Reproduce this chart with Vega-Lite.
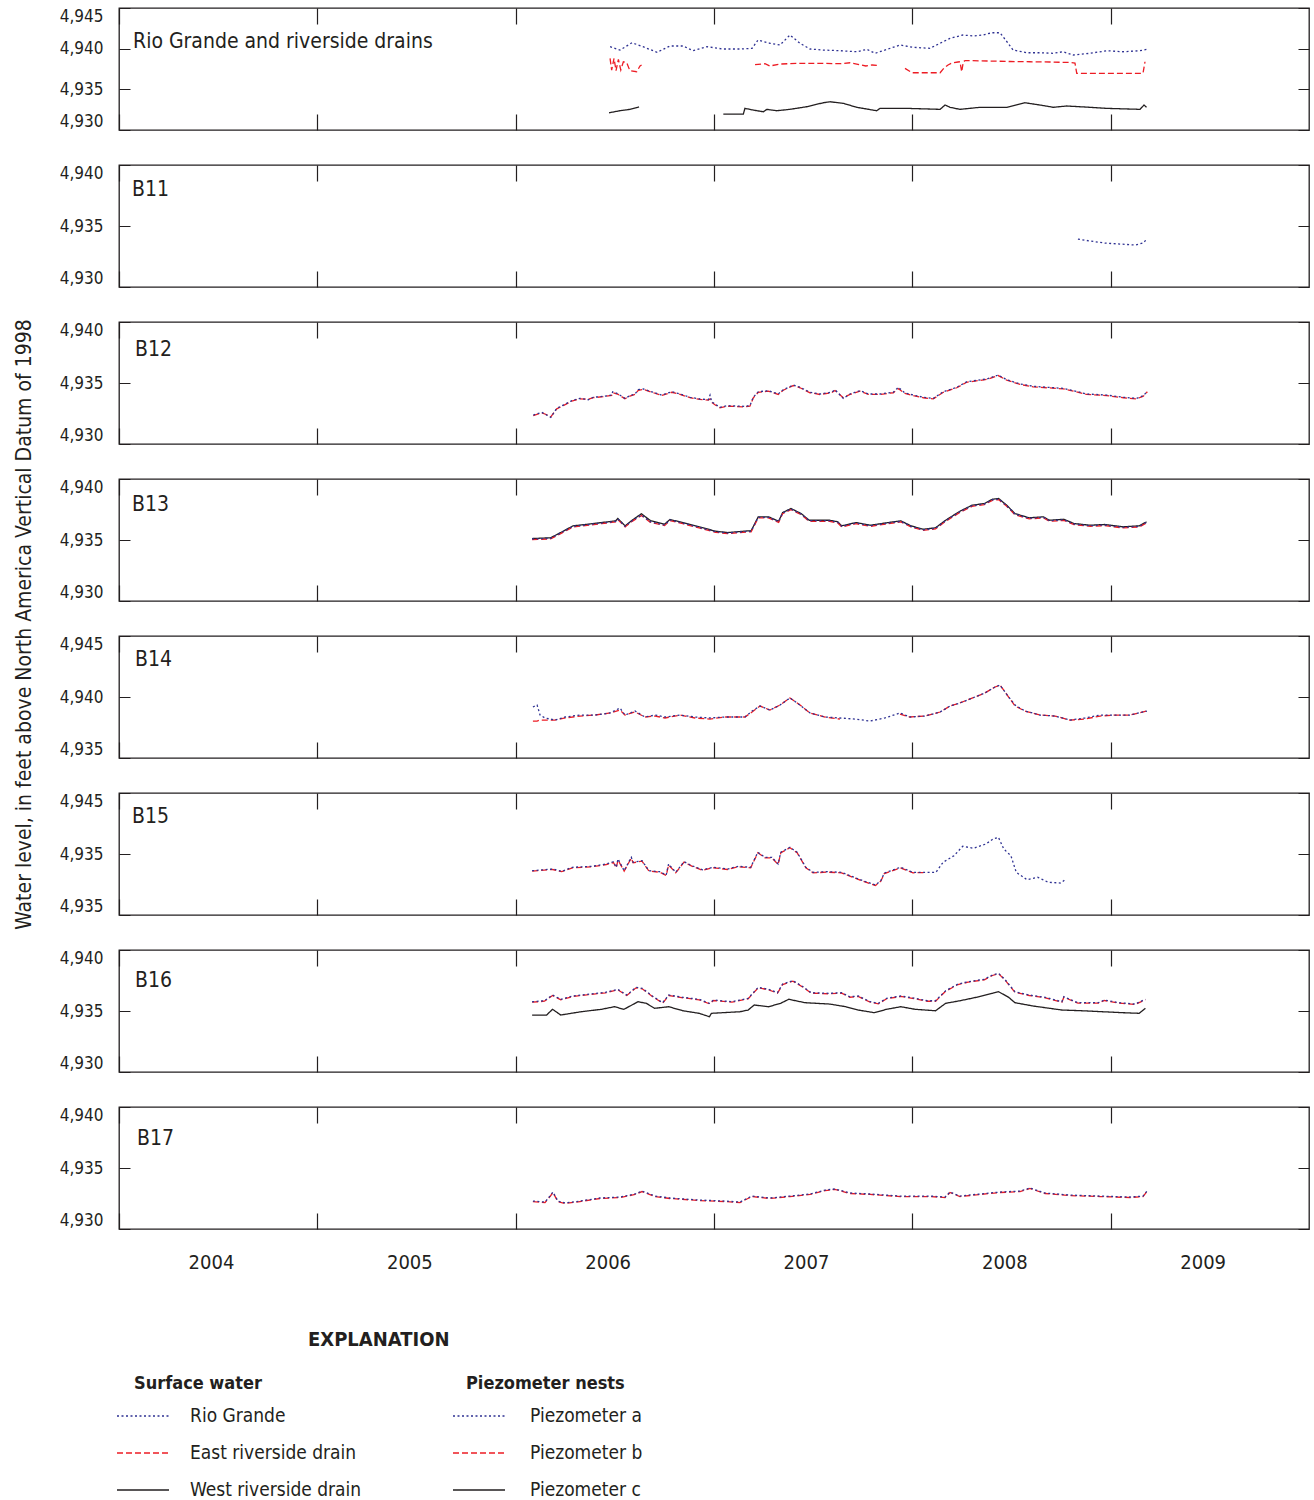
{
  "$schema": "https://vega.github.io/schema/vega-lite/v6.json",
  "background": "white",
  "padding": {"left": 12, "top": 6, "right": 5, "bottom": 0},
  "title": {"text": "EXPLANATION", "anchor": "start", "frame": "group", "orient": "top", "offset": -1354, "dx": 189, "baseline": "middle", "fontSize": 20, "fontWeight": "bold", "color": "#231f20"},
  "spacing": 35,
  "bounds": "flush",
  "resolve": {"scale": {"color": "independent", "strokeDash": "independent"}},
  "config": {
    "font": "DejaVu Sans Condensed, Liberation Sans Narrow, sans-serif",
    "view": {"stroke": "#231f20", "strokeWidth": 1.3},
    "line": {"strokeWidth": 1.3},
    "axisX": {"grid": true, "gridColor": "#231f20", "gridOpacity": 1, "gridWidth": 1.2, "gridDash": [16, 90], "ticks": false, "domain": false, "labels": false},
    "axisY": {"grid": true, "gridColor": "#231f20", "gridOpacity": 1, "gridWidth": 1.2, "gridDash": [11, 1168], "ticks": false, "tickSize": 0, "domain": false, "labelFlush": true, "labelPadding": 16, "labelFontSize": 17, "labelColor": "#231f20"},
    "title": {"fontSize": 21, "fontWeight": "normal", "color": "#231f20", "anchor": "start", "frame": "group", "baseline": "middle"}
  },
  "vconcat": [
    {
      "width": 1190, "height": 122,
      "title": {"text": "Rio Grande and riverside drains", "dx": 14, "offset": -45},
      "data": {"values": [
        {"s":"Rio Grande","t":2006.476,"v":4940.24},{"s":"Rio Grande","t":2006.526,"v":4939.83},{"s":"Rio Grande","t":2006.587,"v":4940.73},{"s":"Rio Grande","t":2006.642,"v":4940.24},{"s":"Rio Grande","t":2006.713,"v":4939.55},{"s":"Rio Grande","t":2006.778,"v":4940.33},{"s":"Rio Grande","t":2006.844,"v":4940.33},{"s":"Rio Grande","t":2006.894,"v":4939.75},{"s":"Rio Grande","t":2006.965,"v":4940.24},{"s":"Rio Grande","t":2007.045,"v":4939.96},{"s":"Rio Grande","t":2007.131,"v":4939.96},{"s":"Rio Grande","t":2007.192,"v":4940.04},{"s":"Rio Grande","t":2007.222,"v":4941.06},{"s":"Rio Grande","t":2007.282,"v":4940.66},{"s":"Rio Grande","t":2007.333,"v":4940.45},{"s":"Rio Grande","t":2007.383,"v":4941.68},{"s":"Rio Grande","t":2007.434,"v":4940.66},{"s":"Rio Grande","t":2007.484,"v":4939.96},{"s":"Rio Grande","t":2007.550,"v":4939.83},{"s":"Rio Grande","t":2007.635,"v":4939.75},{"s":"Rio Grande","t":2007.721,"v":4939.62},{"s":"Rio Grande","t":2007.771,"v":4939.92},{"s":"Rio Grande","t":2007.812,"v":4939.43},{"s":"Rio Grande","t":2007.852,"v":4939.75},{"s":"Rio Grande","t":2007.938,"v":4940.45},{"s":"Rio Grande","t":2008.003,"v":4940.17},{"s":"Rio Grande","t":2008.089,"v":4940.04},{"s":"Rio Grande","t":2008.155,"v":4940.85},{"s":"Rio Grande","t":2008.190,"v":4941.27},{"s":"Rio Grande","t":2008.255,"v":4941.68},{"s":"Rio Grande","t":2008.306,"v":4941.56},{"s":"Rio Grande","t":2008.356,"v":4941.68},{"s":"Rio Grande","t":2008.402,"v":4941.96},{"s":"Rio Grande","t":2008.442,"v":4941.96},{"s":"Rio Grande","t":2008.477,"v":4940.85},{"s":"Rio Grande","t":2008.508,"v":4939.83},{"s":"Rio Grande","t":2008.578,"v":4939.50},{"s":"Rio Grande","t":2008.644,"v":4939.50},{"s":"Rio Grande","t":2008.709,"v":4939.43},{"s":"Rio Grande","t":2008.760,"v":4939.62},{"s":"Rio Grande","t":2008.810,"v":4939.22},{"s":"Rio Grande","t":2008.896,"v":4939.43},{"s":"Rio Grande","t":2008.982,"v":4939.75},{"s":"Rio Grande","t":2009.062,"v":4939.62},{"s":"Rio Grande","t":2009.148,"v":4939.75},{"s":"Rio Grande","t":2009.183,"v":4939.92},
        {"s":"East riverside drain","t":2006.476,"v":4938.81},{"s":"East riverside drain","t":2006.484,"v":4937.37},{"s":"East riverside drain","t":2006.496,"v":4938.81},{"s":"East riverside drain","t":2006.506,"v":4937.29},{"s":"East riverside drain","t":2006.518,"v":4938.69},{"s":"East riverside drain","t":2006.530,"v":4937.37},{"s":"East riverside drain","t":2006.543,"v":4938.39},{"s":"East riverside drain","t":2006.560,"v":4938.27},{"s":"East riverside drain","t":2006.576,"v":4937.29},{"s":"East riverside drain","t":2006.610,"v":4937.16},{"s":"East riverside drain","t":2006.627,"v":4937.87},{"s":"East riverside drain","t":2006.635,"v":4937.99},{"s":"East riverside drain","t":2006.700,"v":null},
        {"s":"East riverside drain","t":2007.207,"v":4938.03},{"s":"East riverside drain","t":2007.257,"v":4938.15},{"s":"East riverside drain","t":2007.282,"v":4937.87},{"s":"East riverside drain","t":2007.333,"v":4938.11},{"s":"East riverside drain","t":2007.434,"v":4938.20},{"s":"East riverside drain","t":2007.534,"v":4938.20},{"s":"East riverside drain","t":2007.635,"v":4938.15},{"s":"East riverside drain","t":2007.686,"v":4938.27},{"s":"East riverside drain","t":2007.736,"v":4938.03},{"s":"East riverside drain","t":2007.766,"v":4937.87},{"s":"East riverside drain","t":2007.797,"v":4937.99},{"s":"East riverside drain","t":2007.822,"v":4937.95},{"s":"East riverside drain","t":2007.900,"v":null},
        {"s":"East riverside drain","t":2007.963,"v":4937.58},{"s":"East riverside drain","t":2007.998,"v":4937.04},{"s":"East riverside drain","t":2008.140,"v":4937.04},{"s":"East riverside drain","t":2008.160,"v":4937.62},{"s":"East riverside drain","t":2008.180,"v":4937.99},{"s":"East riverside drain","t":2008.200,"v":4938.24},{"s":"East riverside drain","t":2008.230,"v":4938.36},{"s":"East riverside drain","t":2008.240,"v":4938.39},{"s":"East riverside drain","t":2008.249,"v":4937.16},{"s":"East riverside drain","t":2008.257,"v":4938.39},{"s":"East riverside drain","t":2008.266,"v":4938.54},{"s":"East riverside drain","t":2008.392,"v":4938.48},{"s":"East riverside drain","t":2008.492,"v":4938.42},{"s":"East riverside drain","t":2008.593,"v":4938.39},{"s":"East riverside drain","t":2008.694,"v":4938.36},{"s":"East riverside drain","t":2008.795,"v":4938.30},{"s":"East riverside drain","t":2008.820,"v":4938.24},{"s":"East riverside drain","t":2008.829,"v":4936.97},{"s":"East riverside drain","t":2008.946,"v":4936.97},{"s":"East riverside drain","t":2009.163,"v":4936.97},{"s":"East riverside drain","t":2009.173,"v":4938.39},
        {"s":"West riverside drain","t":2006.471,"v":4932.12},{"s":"West riverside drain","t":2006.526,"v":4932.37},{"s":"West riverside drain","t":2006.576,"v":4932.54},{"s":"West riverside drain","t":2006.617,"v":4932.79},{"s":"West riverside drain","t":2006.622,"v":4932.86},{"s":"West riverside drain","t":2006.800,"v":null},
        {"s":"West riverside drain","t":2007.047,"v":4931.96},{"s":"West riverside drain","t":2007.148,"v":4931.96},{"s":"West riverside drain","t":2007.156,"v":4932.66},{"s":"West riverside drain","t":2007.198,"v":4932.45},{"s":"West riverside drain","t":2007.249,"v":4932.24},{"s":"West riverside drain","t":2007.266,"v":4932.54},{"s":"West riverside drain","t":2007.316,"v":4932.37},{"s":"West riverside drain","t":2007.383,"v":4932.54},{"s":"West riverside drain","t":2007.467,"v":4932.86},{"s":"West riverside drain","t":2007.551,"v":4933.35},{"s":"West riverside drain","t":2007.585,"v":4933.47},{"s":"West riverside drain","t":2007.652,"v":4933.28},{"s":"West riverside drain","t":2007.720,"v":4932.79},{"s":"West riverside drain","t":2007.820,"v":4932.37},{"s":"West riverside drain","t":2007.837,"v":4932.66},{"s":"West riverside drain","t":2007.972,"v":4932.66},{"s":"West riverside drain","t":2008.140,"v":4932.54},{"s":"West riverside drain","t":2008.165,"v":4933.07},{"s":"West riverside drain","t":2008.190,"v":4932.79},{"s":"West riverside drain","t":2008.240,"v":4932.54},{"s":"West riverside drain","t":2008.341,"v":4932.79},{"s":"West riverside drain","t":2008.476,"v":4932.79},{"s":"West riverside drain","t":2008.568,"v":4933.35},{"s":"West riverside drain","t":2008.644,"v":4933.07},{"s":"West riverside drain","t":2008.711,"v":4932.79},{"s":"West riverside drain","t":2008.778,"v":4932.95},{"s":"West riverside drain","t":2008.896,"v":4932.79},{"s":"West riverside drain","t":2008.980,"v":4932.66},{"s":"West riverside drain","t":2009.148,"v":4932.54},{"s":"West riverside drain","t":2009.168,"v":4933.07},{"s":"West riverside drain","t":2009.181,"v":4932.79}
      ]},
      "mark": {"type": "line"},
      "encoding": {
        "x": {"field": "t", "type": "quantitative", "scale": {"domain": [2004, 2010], "nice": false, "zero": false}, "axis": {"values": [2004, 2005, 2006, 2007, 2008, 2009], "title": null}},
        "y": {"field": "v", "type": "quantitative", "scale": {"domain": [4930, 4945], "nice": false, "zero": false}, "axis": {"values": [4930, 4935, 4940, 4945], "format": ",d", "title": null, "gridDash": [11, 1168]}},
        "color": {"field": "s", "type": "nominal", "scale": {"domain": ["Rio Grande", "East riverside drain", "West riverside drain"], "range": ["#2e3192", "#ed1c24", "#231f20"]},
          "legend": {"orient": "none", "legendX": 15, "legendY": 1367, "title": "Surface water", "titleFontSize": 18, "titleFontWeight": "bold", "titleColor": "#231f20", "titlePadding": -4, "symbolType": "stroke", "symbolSize": 2704, "symbolStrokeWidth": 1.3, "symbolOffset": -18, "labelOffset": 20, "labelFontSize": 19, "labelLimit": 400, "labelColor": "#231f20", "rowPadding": -1, "padding": 0}},
        "strokeDash": {"field": "s", "type": "nominal", "scale": {"domain": ["Rio Grande", "East riverside drain", "West riverside drain"], "range": [[2, 2.5], [6, 3], [1, 0]]},
          "legend": {"orient": "none", "legendX": 15, "legendY": 1367, "title": "Surface water", "titleFontSize": 18, "titleFontWeight": "bold", "titleColor": "#231f20", "titlePadding": -4, "symbolType": "stroke", "symbolSize": 2704, "symbolStrokeWidth": 1.3, "symbolOffset": -18, "labelOffset": 20, "labelFontSize": 19, "labelLimit": 400, "labelColor": "#231f20", "rowPadding": -1, "padding": 0}}
      }
    },
    {
      "width": 1190, "height": 122,
      "title": {"text": "B11", "dx": 13, "offset": -36},
      "data": {"values": [
        {"t":2008.835,"a":4933.93},{"t":2008.896,"a":4933.77},{"t":2008.971,"a":4933.60},{"t":2009.047,"a":4933.52},{"t":2009.123,"a":4933.44},{"t":2009.163,"a":4933.60},{"t":2009.183,"a":4933.93}
      ]},
      "transform": [{"fold": ["c", "b", "a"], "as": ["s", "v"]}, {"filter": "isDefined(datum.v)"}],
      "mark": {"type": "line"},
      "encoding": {
        "x": {"field": "t", "type": "quantitative", "scale": {"domain": [2004, 2010], "nice": false, "zero": false}, "axis": {"values": [2004, 2005, 2006, 2007, 2008, 2009], "title": null}},
        "y": {"field": "v", "type": "quantitative", "scale": {"domain": [4930, 4940], "nice": false, "zero": false}, "axis": {"values": [4930, 4935, 4940], "format": ",d", "title": null}},
        "color": {"field": "s", "type": "nominal", "scale": {"domain": ["a", "b", "c"], "range": ["#2e3192", "#ed1c24", "#231f20"]}, "legend": null},
        "strokeDash": {"field": "s", "type": "nominal", "scale": {"domain": ["a", "b", "c"], "range": [[2, 2.5], [6, 3], [1, 0]]}, "legend": null}
      }
    },
    {
      "width": 1190, "height": 122,
      "title": {"text": "B12", "dx": 16, "offset": -39},
      "data": {"values": [
        {"t":2006.089,"a":4932.37,"b":4932.33},{"t":2006.131,"a":4932.60,"b":4932.55},{"t":2006.157,"a":4932.37,"b":4932.40},{"t":2006.177,"a":4932.19,"b":4932.22},{"t":2006.207,"a":4932.92,"b":4932.88},{"t":2006.240,"a":4933.19,"b":4933.15},{"t":2006.283,"a":4933.55,"b":4933.52},{"t":2006.324,"a":4933.74,"b":4933.70},{"t":2006.366,"a":4933.63,"b":4933.66},{"t":2006.391,"a":4933.83,"b":4933.80},{"t":2006.442,"a":4933.91,"b":4933.88},{"t":2006.484,"a":4934.01,"b":4933.98},{"t":2006.489,"a":4934.28,"b":4934.20},{"t":2006.517,"a":4934.10,"b":4934.06},{"t":2006.551,"a":4933.74,"b":4933.71},{"t":2006.576,"a":4933.96,"b":4933.93},{"t":2006.602,"a":4934.10,"b":4934.07},{"t":2006.618,"a":4934.45,"b":4934.40},{"t":2006.644,"a":4934.51,"b":4934.47},{"t":2006.686,"a":4934.28,"b":4934.25},{"t":2006.736,"a":4934.01,"b":4933.97},{"t":2006.787,"a":4934.28,"b":4934.24},{"t":2006.829,"a":4934.10,"b":4934.06},{"t":2006.879,"a":4933.83,"b":4933.80},{"t":2006.929,"a":4933.69,"b":4933.65},{"t":2006.971,"a":4933.63,"b":4933.60},{"t":2006.980,"a":4934.01,"b":4933.70},{"t":2006.988,"a":4933.46,"b":4933.42},{"t":2007.005,"a":4933.28,"b":4933.22},{"t":2007.030,"a":4933.01,"b":4932.97},{"t":2007.064,"a":4933.14,"b":4933.10},{"t":2007.148,"a":4933.09,"b":4933.05},{"t":2007.181,"a":4933.14,"b":4933.10},{"t":2007.198,"a":4933.83,"b":4933.78},{"t":2007.223,"a":4934.28,"b":4934.24},{"t":2007.274,"a":4934.37,"b":4934.33},{"t":2007.324,"a":4934.10,"b":4934.06},{"t":2007.349,"a":4934.45,"b":4934.41},{"t":2007.400,"a":4934.83,"b":4934.79},{"t":2007.434,"a":4934.65,"b":4934.61},{"t":2007.484,"a":4934.24,"b":4934.20},{"t":2007.534,"a":4934.10,"b":4934.06},{"t":2007.593,"a":4934.24,"b":4934.20},{"t":2007.610,"a":4934.45,"b":4934.38},{"t":2007.652,"a":4933.74,"b":4933.80},{"t":2007.686,"a":4934.10,"b":4934.06},{"t":2007.736,"a":4934.37,"b":4934.33},{"t":2007.778,"a":4934.10,"b":4934.06},{"t":2007.837,"a":4934.10,"b":4934.06},{"t":2007.904,"a":4934.24,"b":4934.20},{"t":2007.929,"a":4934.65,"b":4934.55},{"t":2007.963,"a":4934.18,"b":4934.14},{"t":2008.005,"a":4934.01,"b":4933.97},{"t":2008.055,"a":4933.83,"b":4933.79},{"t":2008.106,"a":4933.74,"b":4933.70},{"t":2008.156,"a":4934.28,"b":4934.24},{"t":2008.224,"a":4934.65,"b":4934.61},{"t":2008.274,"a":4935.10,"b":4935.06},{"t":2008.375,"a":4935.33,"b":4935.29},{"t":2008.433,"a":4935.65,"b":4935.61},{"t":2008.476,"a":4935.27,"b":4935.23},{"t":2008.543,"a":4934.92,"b":4934.88},{"t":2008.610,"a":4934.73,"b":4934.69},{"t":2008.677,"a":4934.65,"b":4934.61},{"t":2008.761,"a":4934.56,"b":4934.52},{"t":2008.812,"a":4934.37,"b":4934.33},{"t":2008.879,"a":4934.10,"b":4934.06},{"t":2008.980,"a":4934.01,"b":4933.97},{"t":2009.064,"a":4933.83,"b":4933.79},{"t":2009.131,"a":4933.74,"b":4933.70},{"t":2009.165,"a":4933.96,"b":4933.92},{"t":2009.185,"a":4934.32,"b":4934.28}
      ]},
      "transform": [{"fold": ["c", "b", "a"], "as": ["s", "v"]}, {"filter": "isDefined(datum.v)"}],
      "mark": {"type": "line"},
      "encoding": {
        "x": {"field": "t", "type": "quantitative", "scale": {"domain": [2004, 2010], "nice": false, "zero": false}, "axis": {"values": [2004, 2005, 2006, 2007, 2008, 2009], "title": null}},
        "y": {"field": "v", "type": "quantitative", "scale": {"domain": [4930, 4940], "nice": false, "zero": false}, "axis": {"values": [4930, 4935, 4940], "format": ",d", "title": null}},
        "color": {"field": "s", "type": "nominal", "scale": {"domain": ["a", "b", "c"], "range": ["#2e3192", "#ed1c24", "#231f20"]}, "legend": null},
        "strokeDash": {"field": "s", "type": "nominal", "scale": {"domain": ["a", "b", "c"], "range": [[2, 2.5], [6, 3], [1, 0]]}, "legend": null}
      }
    },
    {
      "width": 1190, "height": 122,
      "title": {"text": "B13", "dx": 13, "offset": -196},
      "data": {"values": [
        {"t":2006.083,"a":4935.08,"b":4935.03,"c":4935.12},{"t":2006.176,"a":4935.14,"b":4935.09,"c":4935.18},{"t":2006.227,"a":4935.57,"b":4935.52,"c":4935.61},{"t":2006.289,"a":4936.12,"b":4936.07,"c":4936.16},{"t":2006.351,"a":4936.23,"b":4936.18,"c":4936.27},{"t":2006.433,"a":4936.39,"b":4936.34,"c":4936.43},{"t":2006.504,"a":4936.53,"b":4936.48,"c":4936.57},{"t":2006.515,"a":4936.72,"b":4936.67,"c":4936.76},{"t":2006.552,"a":4936.12,"b":4936.07,"c":4936.16},{"t":2006.587,"a":4936.58,"b":4936.53,"c":4936.62},{"t":2006.634,"a":4937.05,"b":4937.00,"c":4937.15},{"t":2006.679,"a":4936.50,"b":4936.45,"c":4936.60},{"t":2006.751,"a":4936.23,"b":4936.18,"c":4936.30},{"t":2006.778,"a":4936.64,"b":4936.59,"c":4936.68},{"t":2006.843,"a":4936.39,"b":4936.34,"c":4936.43},{"t":2006.925,"a":4936.04,"b":4935.99,"c":4936.08},{"t":2007.008,"a":4935.68,"b":4935.63,"c":4935.72},{"t":2007.069,"a":4935.57,"b":4935.52,"c":4935.61},{"t":2007.172,"a":4935.71,"b":4935.66,"c":4935.75},{"t":2007.187,"a":4935.71,"b":4935.66,"c":4935.75},{"t":2007.223,"a":4936.86,"b":4936.81,"c":4936.90},{"t":2007.275,"a":4936.86,"b":4936.81,"c":4936.90},{"t":2007.326,"a":4936.50,"b":4936.45,"c":4936.54},{"t":2007.346,"a":4937.21,"b":4937.16,"c":4937.25},{"t":2007.388,"a":4937.54,"b":4937.49,"c":4937.58},{"t":2007.439,"a":4937.13,"b":4937.08,"c":4937.17},{"t":2007.480,"a":4936.58,"b":4936.53,"c":4936.62},{"t":2007.583,"a":4936.58,"b":4936.53,"c":4936.62},{"t":2007.624,"a":4936.45,"b":4936.40,"c":4936.49},{"t":2007.644,"a":4936.12,"b":4936.07,"c":4936.16},{"t":2007.716,"a":4936.39,"b":4936.34,"c":4936.43},{"t":2007.788,"a":4936.17,"b":4936.12,"c":4936.21},{"t":2007.870,"a":4936.37,"b":4936.32,"c":4936.41},{"t":2007.942,"a":4936.53,"b":4936.48,"c":4936.57},{"t":2007.993,"a":4936.12,"b":4936.07,"c":4936.16},{"t":2008.055,"a":4935.84,"b":4935.79,"c":4935.88},{"t":2008.117,"a":4935.96,"b":4935.91,"c":4936.00},{"t":2008.168,"a":4936.58,"b":4936.53,"c":4936.62},{"t":2008.240,"a":4937.32,"b":4937.27,"c":4937.36},{"t":2008.301,"a":4937.81,"b":4937.76,"c":4937.85},{"t":2008.363,"a":4937.95,"b":4937.90,"c":4937.99},{"t":2008.404,"a":4938.30,"b":4938.25,"c":4938.34},{"t":2008.435,"a":4938.36,"b":4938.31,"c":4938.40},{"t":2008.476,"a":4937.81,"b":4937.76,"c":4937.85},{"t":2008.517,"a":4937.13,"b":4937.08,"c":4937.17},{"t":2008.589,"a":4936.78,"b":4936.73,"c":4936.82},{"t":2008.661,"a":4936.86,"b":4936.81,"c":4936.90},{"t":2008.692,"a":4936.58,"b":4936.53,"c":4936.62},{"t":2008.764,"a":4936.66,"b":4936.61,"c":4936.70},{"t":2008.815,"a":4936.31,"b":4936.26,"c":4936.35},{"t":2008.897,"a":4936.17,"b":4936.12,"c":4936.21},{"t":2008.969,"a":4936.23,"b":4936.18,"c":4936.27},{"t":2009.062,"a":4936.04,"b":4935.99,"c":4936.08},{"t":2009.144,"a":4936.12,"b":4936.07,"c":4936.16},{"t":2009.181,"a":4936.45,"b":4936.40,"c":4936.49}
      ]},
      "transform": [{"fold": ["c", "b", "a"], "as": ["s", "v"]}, {"filter": "isDefined(datum.v)"}],
      "mark": {"type": "line"},
      "encoding": {
        "x": {"field": "t", "type": "quantitative", "scale": {"domain": [2004, 2010], "nice": false, "zero": false}, "axis": {"values": [2004, 2005, 2006, 2007, 2008, 2009], "title": null}},
        "y": {"field": "v", "type": "quantitative", "scale": {"domain": [4930, 4940], "nice": false, "zero": false}, "axis": {"values": [4930, 4935, 4940], "format": ",d", "title": "Water level, in feet above North America Vertical Datum of 1998", "titleX": -95, "titleY": 145, "titleAngle": 270, "titleAlign": "center", "titleBaseline": "middle", "titleFontSize": 21, "titleFontWeight": "normal", "titleColor": "#231f20"}},
        "color": {"field": "s", "type": "nominal", "scale": {"domain": ["a", "b", "c"], "range": ["#2e3192", "#ed1c24", "#231f20"]}, "legend": null},
        "strokeDash": {"field": "s", "type": "nominal", "scale": {"domain": ["a", "b", "c"], "range": [[2, 2.5], [6, 3], [1, 0]]}, "legend": null}
      }
    },
    {
      "width": 1190, "height": 122,
      "title": {"text": "B14", "dx": 16, "offset": -35},
      "data": {"values": [
        {"t":2006.087,"a":4939.18,"b":4938.03},{"t":2006.108,"a":4939.34,"b":4938.03},{"t":2006.123,"a":4938.52,"b":4938.11},{"t":2006.148,"a":4938.28,"b":4938.11},{"t":2006.198,"a":4938.11,"b":4938.11},{"t":2006.249,"a":4938.36,"b":4938.28},{"t":2006.324,"a":4938.52,"b":4938.44},{"t":2006.400,"a":4938.52,"b":4938.52},{"t":2006.476,"a":4938.69,"b":4938.69},{"t":2006.526,"a":4939.10,"b":4938.93},{"t":2006.551,"a":4938.52,"b":4938.52},{"t":2006.602,"a":4938.85,"b":4938.77},{"t":2006.652,"a":4938.36,"b":4938.36},{"t":2006.703,"a":4938.52,"b":4938.44},{"t":2006.753,"a":4938.36,"b":4938.28},{"t":2006.829,"a":4938.52,"b":4938.52},{"t":2006.904,"a":4938.36,"b":4938.28},{"t":2006.980,"a":4938.28,"b":4938.19},{"t":2007.055,"a":4938.36,"b":4938.36},{"t":2007.156,"a":4938.36,"b":4938.36},{"t":2007.192,"a":4938.85,"b":4938.77},{"t":2007.232,"a":4939.26,"b":4939.26},{"t":2007.282,"a":4938.93,"b":4938.93},{"t":2007.333,"a":4939.34,"b":4939.34},{"t":2007.383,"a":4939.92,"b":4939.92},{"t":2007.434,"a":4939.34,"b":4939.34},{"t":2007.484,"a":4938.69,"b":4938.69},{"t":2007.560,"a":4938.36,"b":4938.36},{"t":2007.635,"a":4938.28,"b":4938.19},{"t":2007.711,"a":4938.19,"b":null},{"t":2007.787,"a":4938.03},{"t":2007.862,"a":4938.28},{"t":2007.938,"a":4938.69,"b":4938.60},{"t":2007.988,"a":4938.36,"b":4938.36},{"t":2008.064,"a":4938.44,"b":4938.44},{"t":2008.140,"a":4938.77,"b":4938.77},{"t":2008.190,"a":4939.26,"b":4939.26},{"t":2008.240,"a":4939.51,"b":4939.51},{"t":2008.316,"a":4940.00,"b":4940.00},{"t":2008.366,"a":4940.33,"b":4940.33},{"t":2008.417,"a":4940.82,"b":4940.82},{"t":2008.442,"a":4940.98,"b":4940.98},{"t":2008.482,"a":4940.08,"b":4940.08},{"t":2008.518,"a":4939.34,"b":4939.26},{"t":2008.568,"a":4938.85,"b":4938.85},{"t":2008.644,"a":4938.52,"b":4938.52},{"t":2008.719,"a":4938.44,"b":4938.44},{"t":2008.795,"a":4938.11,"b":4938.11},{"t":2008.871,"a":4938.28,"b":4938.19},{"t":2008.946,"a":4938.52,"b":4938.44},{"t":2009.022,"a":4938.52,"b":4938.52},{"t":2009.098,"a":4938.52,"b":4938.52},{"t":2009.183,"a":4938.85,"b":4938.85}
      ]},
      "transform": [{"fold": ["c", "b", "a"], "as": ["s", "v"]}, {"filter": "isDefined(datum.v)"}],
      "mark": {"type": "line"},
      "encoding": {
        "x": {"field": "t", "type": "quantitative", "scale": {"domain": [2004, 2010], "nice": false, "zero": false}, "axis": {"values": [2004, 2005, 2006, 2007, 2008, 2009], "title": null}},
        "y": {"field": "v", "type": "quantitative", "scale": {"domain": [4935, 4945], "nice": false, "zero": false}, "axis": {"values": [4935, 4940, 4945], "format": ",d", "title": null}},
        "color": {"field": "s", "type": "nominal", "scale": {"domain": ["a", "b", "c"], "range": ["#2e3192", "#ed1c24", "#231f20"]}, "legend": null},
        "strokeDash": {"field": "s", "type": "nominal", "scale": {"domain": ["a", "b", "c"], "range": [[2, 2.5], [6, 3], [1, 0]]}, "legend": null}
      }
    },
    {
      "width": 1190, "height": 122,
      "title": {"text": "B15", "dx": 13, "offset": -35},
      "data": {"values": [
        {"t":2006.083,"a":4938.63,"b":4938.60},{"t":2006.187,"a":4938.77,"b":4938.73},{"t":2006.232,"a":4938.58,"b":4938.55},{"t":2006.286,"a":4938.91,"b":4938.87},{"t":2006.385,"a":4938.99,"b":4938.95},{"t":2006.457,"a":4939.18,"b":4939.14},{"t":2006.493,"a":4939.37,"b":4939.30},{"t":2006.507,"a":4938.91,"b":4938.87},{"t":2006.516,"a":4939.59,"b":4939.50},{"t":2006.547,"a":4938.63,"b":4938.60},{"t":2006.583,"a":4939.73,"b":4939.66},{"t":2006.592,"a":4939.32,"b":4939.28},{"t":2006.637,"a":4939.45,"b":4939.41},{"t":2006.672,"a":4938.63,"b":4938.60},{"t":2006.726,"a":4938.55,"b":4938.51},{"t":2006.759,"a":4938.28,"b":4938.24},{"t":2006.771,"a":4939.18,"b":4939.10},{"t":2006.807,"a":4938.50,"b":4938.46},{"t":2006.849,"a":4939.37,"b":4939.33},{"t":2006.888,"a":4939.04,"b":4939.00},{"t":2006.942,"a":4938.71,"b":4938.67},{"t":2006.996,"a":4938.91,"b":4938.87},{"t":2007.068,"a":4938.77,"b":4938.73},{"t":2007.122,"a":4938.99,"b":4938.95},{"t":2007.185,"a":4938.91,"b":4938.87},{"t":2007.221,"a":4940.14,"b":4940.10},{"t":2007.257,"a":4939.73,"b":4939.69},{"t":2007.292,"a":4939.73,"b":4939.69},{"t":2007.323,"a":4939.18,"b":4939.14},{"t":2007.337,"a":4940.14,"b":4940.10},{"t":2007.383,"a":4940.55,"b":4940.51},{"t":2007.419,"a":4940.14,"b":4940.10},{"t":2007.463,"a":4938.91,"b":4938.87},{"t":2007.499,"a":4938.50,"b":4938.46},{"t":2007.571,"a":4938.55,"b":4938.51},{"t":2007.643,"a":4938.50,"b":4938.46},{"t":2007.706,"a":4938.09,"b":4938.05},{"t":2007.751,"a":4937.81,"b":4937.77},{"t":2007.814,"a":4937.46,"b":4937.42},{"t":2007.841,"a":4937.81,"b":4937.77},{"t":2007.859,"a":4938.44,"b":4938.40},{"t":2007.940,"a":4938.91,"b":4938.87},{"t":2008.003,"a":4938.50,"b":4938.46},{"t":2008.056,"a":4938.50,"b":4938.48},{"t":2008.119,"a":4938.50},{"t":2008.155,"a":4939.32},{"t":2008.210,"a":4939.86},{"t":2008.254,"a":4940.63},{"t":2008.308,"a":4940.47},{"t":2008.371,"a":4940.82},{"t":2008.407,"a":4941.23},{"t":2008.434,"a":4941.37},{"t":2008.461,"a":4940.41},{"t":2008.497,"a":4939.86},{"t":2008.524,"a":4938.50},{"t":2008.578,"a":4937.89},{"t":2008.632,"a":4938.09},{"t":2008.686,"a":4937.68},{"t":2008.749,"a":4937.62},{"t":2008.775,"a":4937.95}
      ]},
      "transform": [{"fold": ["c", "b", "a"], "as": ["s", "v"]}, {"filter": "isDefined(datum.v)"}],
      "mark": {"type": "line"},
      "encoding": {
        "x": {"field": "t", "type": "quantitative", "scale": {"domain": [2004, 2010], "nice": false, "zero": false}, "axis": {"values": [2004, 2005, 2006, 2007, 2008, 2009], "title": null}},
        "y": {"field": "v", "type": "quantitative", "scale": {"domain": [4935, 4945], "nice": false, "zero": false}, "axis": {"values": [4935, 4940, 4945], "labelExpr": "datum.value == 4940 ? '4,935' : format(datum.value, ',d')", "title": null}},
        "color": {"field": "s", "type": "nominal", "scale": {"domain": ["a", "b", "c"], "range": ["#2e3192", "#ed1c24", "#231f20"]}, "legend": null},
        "strokeDash": {"field": "s", "type": "nominal", "scale": {"domain": ["a", "b", "c"], "range": [[2, 2.5], [6, 3], [1, 0]]}, "legend": null}
      }
    },
    {
      "width": 1190, "height": 122,
      "title": {"text": "B16", "dx": 16, "offset": -42},
      "data": {"values": [
        {"t":2006.083,"a":4935.76,"b":4935.72},{"t":2006.145,"a":4935.84,"b":4935.80},{"t":2006.186,"a":4936.31,"b":4936.27},{"t":2006.227,"a":4935.96,"b":4935.92},{"t":2006.289,"a":4936.23,"b":4936.19},{"t":2006.371,"a":4936.39,"b":4936.35},{"t":2006.453,"a":4936.53,"b":4936.49},{"t":2006.515,"a":4936.78,"b":4936.74},{"t":2006.560,"a":4936.31,"b":4936.27},{"t":2006.607,"a":4936.94,"b":4936.90},{"t":2006.638,"a":4936.86,"b":4936.82},{"t":2006.689,"a":4936.23,"b":4936.19},{"t":2006.741,"a":4935.68,"b":4935.64},{"t":2006.772,"a":4936.31,"b":4936.27},{"t":2006.843,"a":4936.12,"b":4936.08},{"t":2006.925,"a":4935.96,"b":4935.92},{"t":2006.977,"a":4935.63,"b":4935.59},{"t":2006.998,"a":4935.90,"b":4935.86},{"t":2007.090,"a":4935.76,"b":4935.72},{"t":2007.172,"a":4936.04,"b":4936.00},{"t":2007.223,"a":4936.94,"b":4936.90},{"t":2007.275,"a":4936.78,"b":4936.74},{"t":2007.320,"a":4936.50,"b":4936.46},{"t":2007.346,"a":4937.21,"b":4937.17},{"t":2007.398,"a":4937.48,"b":4937.44},{"t":2007.449,"a":4936.99,"b":4936.95},{"t":2007.490,"a":4936.50,"b":4936.46},{"t":2007.583,"a":4936.45,"b":4936.41},{"t":2007.644,"a":4936.50,"b":4936.46},{"t":2007.685,"a":4936.17,"b":4936.13},{"t":2007.727,"a":4936.23,"b":4936.19},{"t":2007.788,"a":4935.76,"b":4935.72},{"t":2007.829,"a":4935.63,"b":4935.59},{"t":2007.870,"a":4936.04,"b":4936.00},{"t":2007.942,"a":4936.23,"b":4936.19},{"t":2008.014,"a":4936.04,"b":4936.00},{"t":2008.075,"a":4935.84,"b":4935.80},{"t":2008.117,"a":4935.84,"b":4935.80},{"t":2008.168,"a":4936.66,"b":4936.62},{"t":2008.230,"a":4937.21,"b":4937.17},{"t":2008.281,"a":4937.40,"b":4937.36},{"t":2008.363,"a":4937.60,"b":4937.56},{"t":2008.404,"a":4937.95,"b":4937.91},{"t":2008.435,"a":4938.09,"b":4938.05},{"t":2008.466,"a":4937.60,"b":4937.56},{"t":2008.517,"a":4936.58,"b":4936.54},{"t":2008.589,"a":4936.31,"b":4936.27},{"t":2008.671,"a":4936.12,"b":4936.08},{"t":2008.754,"a":4935.76,"b":4935.72},{"t":2008.764,"a":4936.17,"b":4936.13},{"t":2008.835,"a":4935.68,"b":4935.64},{"t":2008.938,"a":4935.68,"b":4935.64},{"t":2008.969,"a":4935.90,"b":4935.86},{"t":2009.041,"a":4935.68,"b":4935.64},{"t":2009.123,"a":4935.57,"b":4935.53},{"t":2009.175,"a":4935.96,"b":4935.92},
        {"t":2006.083,"c":4934.67},{"t":2006.156,"c":4934.67},{"t":2006.186,"c":4935.14},{"t":2006.227,"c":4934.67},{"t":2006.330,"c":4934.94},{"t":2006.433,"c":4935.14},{"t":2006.498,"c":4935.35},{"t":2006.546,"c":4935.14},{"t":2006.617,"c":4935.76},{"t":2006.659,"c":4935.63},{"t":2006.700,"c":4935.22},{"t":2006.772,"c":4935.35},{"t":2006.843,"c":4935.02},{"t":2006.925,"c":4934.81},{"t":2006.977,"c":4934.53},{"t":2006.987,"c":4934.81},{"t":2007.131,"c":4934.94},{"t":2007.172,"c":4935.08},{"t":2007.203,"c":4935.49},{"t":2007.275,"c":4935.35},{"t":2007.336,"c":4935.63},{"t":2007.377,"c":4935.96},{"t":2007.459,"c":4935.68},{"t":2007.583,"c":4935.57},{"t":2007.665,"c":4935.35},{"t":2007.727,"c":4935.08},{"t":2007.809,"c":4934.86},{"t":2007.870,"c":4935.14},{"t":2007.942,"c":4935.35},{"t":2008.014,"c":4935.14},{"t":2008.117,"c":4935.02},{"t":2008.168,"c":4935.63},{"t":2008.240,"c":4935.84},{"t":2008.322,"c":4936.12},{"t":2008.404,"c":4936.45},{"t":2008.435,"c":4936.58},{"t":2008.486,"c":4936.12},{"t":2008.517,"c":4935.68},{"t":2008.609,"c":4935.41},{"t":2008.692,"c":4935.22},{"t":2008.754,"c":4935.08},{"t":2008.856,"c":4935.02},{"t":2008.959,"c":4934.94},{"t":2009.062,"c":4934.86},{"t":2009.144,"c":4934.81},{"t":2009.175,"c":4935.22}
      ]},
      "transform": [{"fold": ["c", "b", "a"], "as": ["s", "v"]}, {"filter": "isDefined(datum.v)"}],
      "mark": {"type": "line"},
      "encoding": {
        "x": {"field": "t", "type": "quantitative", "scale": {"domain": [2004, 2010], "nice": false, "zero": false}, "axis": {"values": [2004, 2005, 2006, 2007, 2008, 2009], "title": null}},
        "y": {"field": "v", "type": "quantitative", "scale": {"domain": [4930, 4940], "nice": false, "zero": false}, "axis": {"values": [4930, 4935, 4940], "format": ",d", "title": null}},
        "color": {"field": "s", "type": "nominal", "scale": {"domain": ["a", "b", "c"], "range": ["#2e3192", "#ed1c24", "#231f20"]}, "legend": null},
        "strokeDash": {"field": "s", "type": "nominal", "scale": {"domain": ["a", "b", "c"], "range": [[2, 2.5], [6, 3], [1, 0]]}, "legend": null}
      }
    },
    {
      "width": 1190, "height": 122,
      "title": {"text": "B17", "dx": 18, "offset": -43},
      "data": {"values": [
        {"t":2006.087,"a":4932.29,"b":4932.25},{"t":2006.148,"a":4932.21,"b":4932.17},{"t":2006.173,"a":4932.70,"b":4932.66},{"t":2006.188,"a":4933.03,"b":4932.99},{"t":2006.213,"a":4932.29,"b":4932.25},{"t":2006.249,"a":4932.13,"b":4932.09},{"t":2006.324,"a":4932.29,"b":4932.25},{"t":2006.425,"a":4932.54,"b":4932.50},{"t":2006.526,"a":4932.62,"b":4932.58},{"t":2006.602,"a":4932.87,"b":4932.83},{"t":2006.637,"a":4933.11,"b":4933.07},{"t":2006.703,"a":4932.70,"b":4932.66},{"t":2006.778,"a":4932.54,"b":4932.50},{"t":2006.929,"a":4932.37,"b":4932.33},{"t":2007.055,"a":4932.29,"b":4932.25},{"t":2007.131,"a":4932.21,"b":4932.17},{"t":2007.171,"a":4932.54,"b":4932.50},{"t":2007.192,"a":4932.70,"b":4932.66},{"t":2007.282,"a":4932.54,"b":4932.50},{"t":2007.383,"a":4932.70,"b":4932.66},{"t":2007.484,"a":4932.87,"b":4932.83},{"t":2007.560,"a":4933.19,"b":4933.15},{"t":2007.610,"a":4933.28,"b":4933.24},{"t":2007.686,"a":4932.95,"b":4932.91},{"t":2007.787,"a":4932.87,"b":4932.83},{"t":2007.938,"a":4932.70,"b":4932.66},{"t":2008.089,"a":4932.70,"b":4932.66},{"t":2008.165,"a":4932.62,"b":4932.58},{"t":2008.190,"a":4933.03,"b":4932.99},{"t":2008.240,"a":4932.70,"b":4932.66},{"t":2008.341,"a":4932.87,"b":4932.83},{"t":2008.442,"a":4933.03,"b":4932.99},{"t":2008.543,"a":4933.11,"b":4933.07},{"t":2008.593,"a":4933.36,"b":4933.32},{"t":2008.669,"a":4932.95,"b":4932.91},{"t":2008.795,"a":4932.78,"b":4932.74},{"t":2008.946,"a":4932.70,"b":4932.66},{"t":2009.098,"a":4932.62,"b":4932.58},{"t":2009.163,"a":4932.70,"b":4932.66},{"t":2009.183,"a":4933.11,"b":4933.07}
      ]},
      "transform": [{"fold": ["c", "b", "a"], "as": ["s", "v"]}, {"filter": "isDefined(datum.v)"}],
      "mark": {"type": "line"},
      "encoding": {
        "x": {"field": "t", "type": "quantitative", "scale": {"domain": [2004, 2010], "nice": false, "zero": false}, "axis": {"values": [2004, 2005, 2006, 2007, 2008, 2009], "title": null, "labels": true, "format": "d", "labelOffset": 92, "labelPadding": 33, "tickSize": 0, "labelBaseline": "middle", "labelFontSize": 20, "labelFlush": false, "labelOverlap": false, "labelBound": false, "labelColor": "#231f20"}},
        "y": {"field": "v", "type": "quantitative", "scale": {"domain": [4930, 4940], "nice": false, "zero": false}, "axis": {"values": [4930, 4935, 4940], "format": ",d", "title": null}},
        "color": {"field": "s", "type": "nominal", "scale": {"domain": ["a", "b", "c"], "range": ["#2e3192", "#ed1c24", "#231f20"]},
          "legend": {"orient": "none", "legendX": 347, "legendY": 268, "title": "Piezometer nests", "titleFontSize": 18, "titleFontWeight": "bold", "titleColor": "#231f20", "titlePadding": -4, "symbolType": "stroke", "symbolSize": 2704, "symbolStrokeWidth": 1.3, "symbolOffset": -14, "labelOffset": 24, "labelFontSize": 19, "labelLimit": 400, "labelColor": "#231f20", "rowPadding": -1, "padding": 0, "labelExpr": "'Piezometer ' + datum.label"}},
        "strokeDash": {"field": "s", "type": "nominal", "scale": {"domain": ["a", "b", "c"], "range": [[2, 2.5], [6, 3], [1, 0]]},
          "legend": {"orient": "none", "legendX": 347, "legendY": 268, "title": "Piezometer nests", "titleFontSize": 18, "titleFontWeight": "bold", "titleColor": "#231f20", "titlePadding": -4, "symbolType": "stroke", "symbolSize": 2704, "symbolStrokeWidth": 1.3, "symbolOffset": -14, "labelOffset": 24, "labelFontSize": 19, "labelLimit": 400, "labelColor": "#231f20", "rowPadding": -1, "padding": 0, "labelExpr": "'Piezometer ' + datum.label"}}
      }
    }
  ]
}
